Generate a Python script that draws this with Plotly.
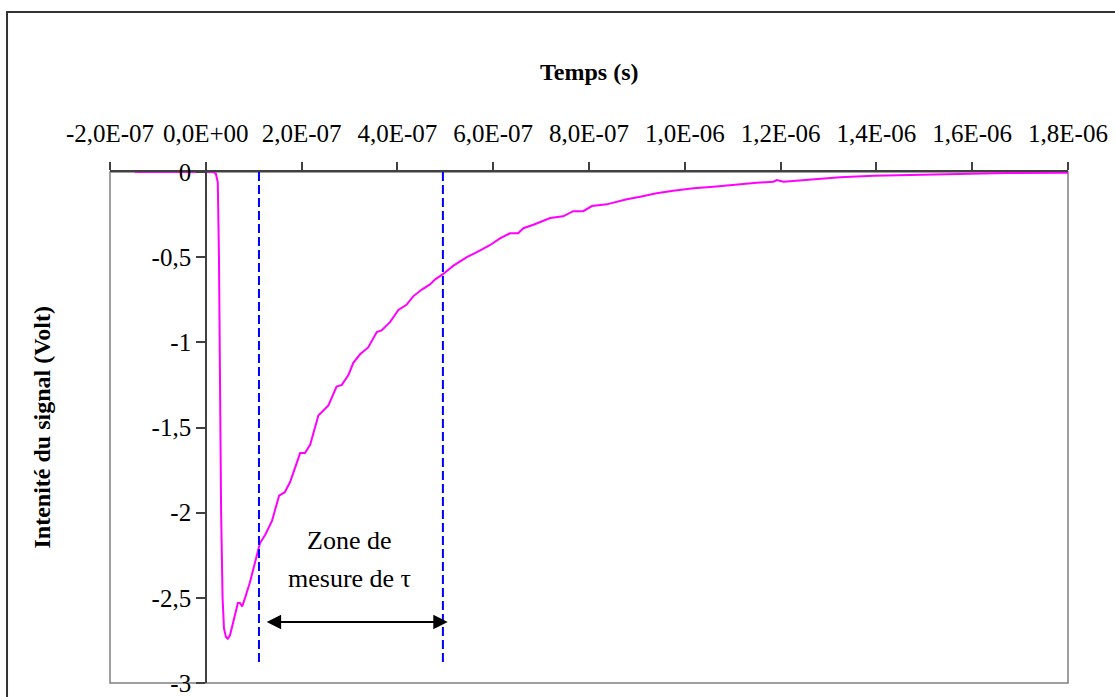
import plotly.graph_objects as go

# ---- data ----
time_s = [
    -1.48e-7, 1.5e-8, 2.1e-8, 2.5e-8, 2.75e-8, 2.96e-8, 3.2e-8, 3.5e-8, 3.8e-8,
    4.2e-8, 4.6e-8, 5.05e-8, 5.7e-8, 6.3e-8, 6.7e-8, 7.1e-8, 7.6e-8, 8.2e-8,
    9.2e-8, 1.03e-7, 1.07e-7, 1.13e-7, 1.24e-7, 1.38e-7, 1.53e-7, 1.65e-7,
    1.76e-7, 1.97e-7, 2.07e-7, 2.18e-7, 2.35e-7, 2.56e-7, 2.73e-7, 2.84e-7,
    2.98e-7, 3.08e-7, 3.22e-7, 3.39e-7, 3.57e-7, 3.67e-7, 3.85e-7, 4.02e-7,
    4.19e-7, 4.33e-7, 4.51e-7, 4.68e-7, 4.79e-7, 4.95e-7, 5.17e-7, 5.45e-7,
    5.66e-7, 5.93e-7, 6.14e-7, 6.35e-7, 6.52e-7, 6.63e-7, 6.84e-7, 7.19e-7,
    7.46e-7, 7.67e-7, 7.88e-7, 8.06e-7, 8.37e-7, 8.79e-7, 9.07e-7, 9.41e-7,
    9.76e-7, 1.018e-6, 1.06e-6, 1.094e-6, 1.15e-6, 1.185e-6, 1.192e-6,
    1.206e-6, 1.255e-6, 1.324e-6, 1.394e-6, 1.463e-6, 1.533e-6, 1.602e-6,
    1.672e-6, 1.80e-6,
]
signal_v = [
    0.0, 0.0, -0.01, -0.06, -0.5, -1.3, -2.0, -2.5, -2.68,
    -2.73, -2.74, -2.72, -2.65, -2.58, -2.53, -2.53, -2.55, -2.50,
    -2.41, -2.29, -2.24, -2.18, -2.13, -2.05, -1.90, -1.88,
    -1.82, -1.65, -1.65, -1.60, -1.43, -1.37, -1.26, -1.25,
    -1.19, -1.12, -1.07, -1.03, -0.94, -0.93, -0.88, -0.81,
    -0.78, -0.73, -0.69, -0.66, -0.63, -0.60, -0.55, -0.50,
    -0.47, -0.43, -0.39, -0.36, -0.36, -0.33, -0.31, -0.27,
    -0.26, -0.23, -0.23, -0.20, -0.19, -0.16, -0.145, -0.125,
    -0.11, -0.095, -0.086, -0.076, -0.063, -0.057, -0.047,
    -0.057, -0.047, -0.031, -0.022, -0.018, -0.012, -0.008,
    -0.006, -0.004,
]

zone_bounds = [1.11e-7, 4.95e-7]
zone_line_y = [0.0, -2.88]
arrow_x = [1.24e-7, 5.05e-7]
arrow_y = -2.642
zone_label_x = 2.99e-7
zone_label_lines = ["Zone de", "mesure de τ"]
zone_label_y = [-2.165, -2.385]

x_tickvals = [-2e-7, 0, 2e-7, 4e-7, 6e-7, 8e-7, 1e-6, 1.2e-6, 1.4e-6, 1.6e-6, 1.8e-6]
x_ticktext = ["-2,0E-07", "0,0E+00", "2,0E-07", "4,0E-07", "6,0E-07", "8,0E-07",
              "1,0E-06", "1,2E-06", "1,4E-06", "1,6E-06", "1,8E-06"]
y_tickvals = [0, -0.5, -1, -1.5, -2, -2.5, -3]
y_ticktext = ["0", "-0,5", "-1", "-1,5", "-2", "-2,5", "-3"]

x_title = "Temps (s)"
y_title = "Intenité du signal (Volt)"

FONT = "Liberation Serif, Times New Roman, serif"
AXIS_COLOR = "#404040"

fig = go.Figure()

fig.add_trace(go.Scatter(
    x=time_s, y=signal_v, mode="lines",
    line=dict(color="#FF00FF", width=2),
    cliponaxis=False, showlegend=False, hoverinfo="skip",
))

for xb in zone_bounds:
    fig.add_trace(go.Scatter(
        x=[xb, xb], y=zone_line_y, mode="lines",
        line=dict(color="#0000FF", width=2, dash="9px,4px"),
        showlegend=False, hoverinfo="skip",
    ))

annotations = [
    # double arrow
    dict(x=arrow_x[1], y=arrow_y, ax=arrow_x[0], ay=arrow_y,
         xref="x", yref="y", axref="x", ayref="y", text="",
         showarrow=True, arrowhead=2, startarrowhead=2, arrowside="end+start",
         arrowsize=1.6, startarrowsize=1.6, arrowwidth=1.8, arrowcolor="black"),
    dict(x=0.5, y=1.1957, xref="paper", yref="paper", text="<b>" + x_title + "</b>",
         showarrow=False, xanchor="center", yanchor="middle",
         font=dict(family=FONT, size=24, color="black")),
    dict(x=-0.071, y=0.5, xref="paper", yref="paper", text="<b>" + y_title + "</b>",
         showarrow=False, xanchor="center", yanchor="middle", textangle=-90,
         font=dict(family=FONT, size=24, color="black")),
]
for txt, yy in zip(zone_label_lines, zone_label_y):
    annotations.append(dict(x=zone_label_x, y=yy, xref="x", yref="y", text=txt,
                            showarrow=False, xanchor="center", yanchor="middle",
                            font=dict(family=FONT, size=26, color="black")))

shapes = [
    # plot-area border (gray)
    dict(type="rect", xref="paper", yref="paper", x0=0, x1=1, y0=0, y1=1,
         line=dict(color="#808080", width=1.5), layer="below"),
    # outer chart border
    dict(type="rect", xref="paper", yref="paper", x0=-0.1075, x1=1.06, y0=-0.05, y1=1.3131,
         line=dict(color="#333333", width=2), layer="below"),
]

fig.update_layout(
    width=1115, height=697,
    margin=dict(l=110, r=47, t=172, b=14, autoexpand=False),
    paper_bgcolor="white", plot_bgcolor="white",
    font=dict(family=FONT, size=25, color="black"),
    showlegend=False,
    annotations=annotations,
    shapes=shapes,
    xaxis=dict(
        range=[-2e-7, 1.8e-6], side="top", anchor="y", automargin=False,
        showline=True, linecolor=AXIS_COLOR, linewidth=1.5,
        ticks="outside", ticklen=8, tickwidth=1.5, tickcolor=AXIS_COLOR,
        tickvals=x_tickvals, ticktext=x_ticktext,
        tickfont=dict(family=FONT, size=25, color="black"),
        ticklabelstandoff=10,
        showgrid=False, zeroline=False, layer="below traces",
    ),
    yaxis=dict(
        range=[-3, 0], anchor="free", position=0.1001, automargin=False,
        showline=True, linecolor=AXIS_COLOR, linewidth=1.5,
        ticks="outside", ticklen=9, tickwidth=1.5, tickcolor=AXIS_COLOR,
        tickvals=y_tickvals, ticktext=y_ticktext,
        tickfont=dict(family=FONT, size=25, color="black"),
        showgrid=False, zeroline=False,
    ),
)

fig.write_html(
    "out.html",
    config={"displayModeBar": False},
    post_script="document.body.style.margin='0';document.body.style.overflow='hidden';",
)
